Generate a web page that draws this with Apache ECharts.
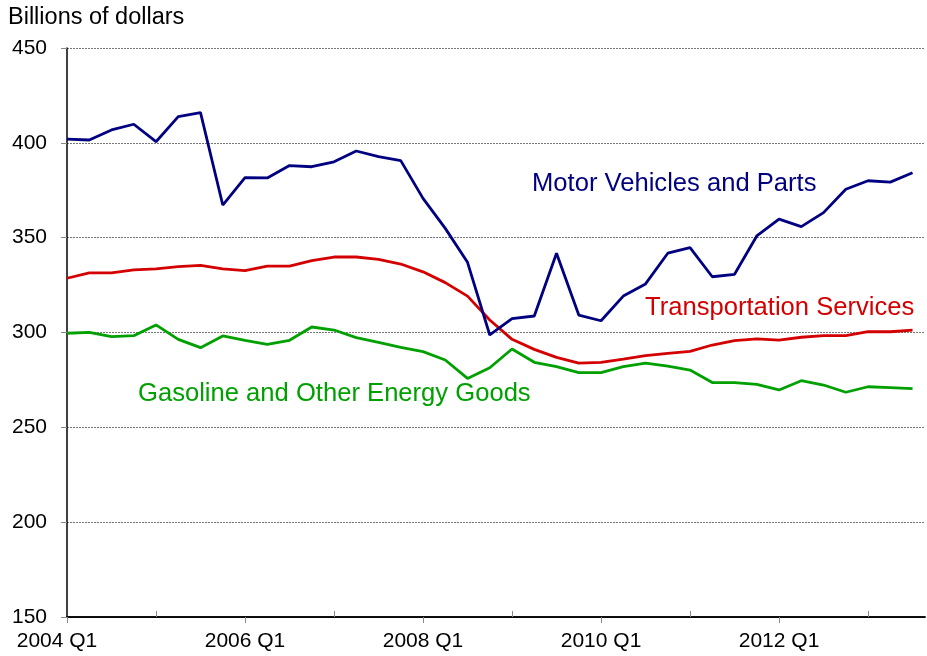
<!DOCTYPE html>
<html>
<head>
<meta charset="utf-8">
<script src="https://cdn.jsdelivr.net/npm/echarts@6/dist/echarts.min.js"></script>
<style>
html,body{margin:0;padding:0;background:#fff;}
#chart{width:927px;height:656px;}
</style>
</head>
<body>
<div id="chart"></div>
<script>
// Quarters 2004 Q1 .. 2013 Q3
const quarters = [];
for (let y = 2004; y <= 2013; y++) for (let q = 1; q <= 4; q++) if (!(y === 2013 && q === 4)) quarters.push(y + ' Q' + q);

const motorVehicles = [402, 401.5, 406.8, 409.8, 400.6, 413.8, 415.9, 367.2, 381.6, 381.5, 388, 387.4, 390, 395.7, 392.7, 390.6,
  370.7, 354.9, 337, 298.7, 307.3, 308.7, 341.8, 309.2, 306.2, 319.2, 325.6, 341.8, 344.7, 329.4, 330.7, 350.9,
  359.8, 355.8, 363.2, 375.5, 380, 379.3, 384.2];
const transportation = [328.6, 331.4, 331.4, 333, 333.5, 334.7, 335.4, 333.5, 332.6, 335, 335, 337.9, 339.8, 339.8, 338.6, 336.1,
  332, 326.3, 319.2, 306.6, 296.4, 291.1, 286.9, 283.8, 284.3, 286, 287.8, 289, 290, 293.4, 295.7, 296.6,
  296, 297.5, 298.3, 298.3, 300.4, 300.4, 301.3];
const gasoline = [299.6, 300.1, 297.8, 298.3, 304, 296.4, 292, 298.2, 295.9, 293.8, 295.9, 302.9, 301.3, 297.3, 294.8, 292.2,
  289.9, 285.5, 275.8, 281.4, 291.3, 284.3, 282, 278.8, 278.8, 282, 283.8, 282.3, 280.2, 273.6, 273.6, 272.7,
  269.7, 274.6, 272.3, 268.5, 271.4, 270.9, 270.4];

const labelTicks = [0, 8, 16, 24, 32];   // 2004 Q1, 2006 Q1, ...
const upTicks = [4, 12, 20, 28, 36];

const toPairs = arr => arr.map((v, i) => [i, v]);

const chart = echarts.init(document.getElementById('chart'));
const FONT = '"Liberation Sans", Arial, sans-serif';

const baseX = {
  type: 'value', min: 0, max: 38.56,
  splitLine: { show: false },
  axisLine: { show: true, onZero: false, lineStyle: { color: '#000', width: 1.5 } },
};

chart.setOption({
  animation: false,
  backgroundColor: '#fff',
  grid: { left: 67, right: 2, top: 48, bottom: 39, containLabel: false },
  xAxis: [
    Object.assign({}, baseX, {
      axisTick: { show: true, inside: false, length: 6, lineStyle: { color: '#888' }, customValues: labelTicks },
      axisLabel: {
        show: true, customValues: labelTicks, margin: 14,
        fontFamily: FONT, fontSize: 21, color: '#000',
        formatter: v => {
          const s = quarters[Math.round(v)];
          return Math.round(v) === 0 ? '{a|' + s + '}' : s;
        },
        rich: { a: { fontFamily: FONT, fontSize: 21, color: '#000', padding: [0, 20, 0, 0] } }
      }
    }),
    Object.assign({}, baseX, {
      position: 'bottom',
      axisTick: { show: true, inside: true, length: 6, lineStyle: { color: '#888' }, customValues: upTicks },
      axisLabel: { show: false }
    })
  ],
  yAxis: {
    type: 'value', min: 150, max: 450, interval: 50,
    axisLine: { show: true, lineStyle: { color: '#000', width: 1.5 } },
    axisTick: { show: true, length: 6, lineStyle: { color: '#888' } },
    axisLabel: { fontFamily: FONT, fontSize: 21, color: '#000', margin: 20 },
    splitLine: { show: true, lineStyle: { color: '#777', type: [2, 1], width: 1 } }
  },
  series: [
    { type: 'line', name: 'Gasoline and Other Energy Goods', data: toPairs(gasoline), showSymbol: false,
      lineStyle: { color: '#00a000', width: 2.8 }, itemStyle: { color: '#00a000' } },
    { type: 'line', name: 'Transportation Services', data: toPairs(transportation), showSymbol: false,
      lineStyle: { color: '#d40000', width: 2.8 }, itemStyle: { color: '#d40000' } },
    { type: 'line', name: 'Motor Vehicles and Parts', data: toPairs(motorVehicles), showSymbol: false,
      lineStyle: { color: '#000080', width: 2.8 }, itemStyle: { color: '#000080' } }
  ],
  graphic: [
    { type: 'text', left: 8, top: 6, style: { text: 'Billions of dollars', fontFamily: FONT, fontSize: 23.5, fill: '#000' } },
    { type: 'text', left: 532, top: 171, style: { text: 'Motor Vehicles and Parts', fontFamily: FONT, fontSize: 25.6, fill: '#000080' } },
    { type: 'text', left: 645, top: 295, style: { text: 'Transportation Services', fontFamily: FONT, fontSize: 25.6, fill: '#d40000' } },
    { type: 'text', left: 138, top: 381, style: { text: 'Gasoline and Other Energy Goods', fontFamily: FONT, fontSize: 25.6, fill: '#00a000' } }
  ]
});
</script>
</body>
</html>
